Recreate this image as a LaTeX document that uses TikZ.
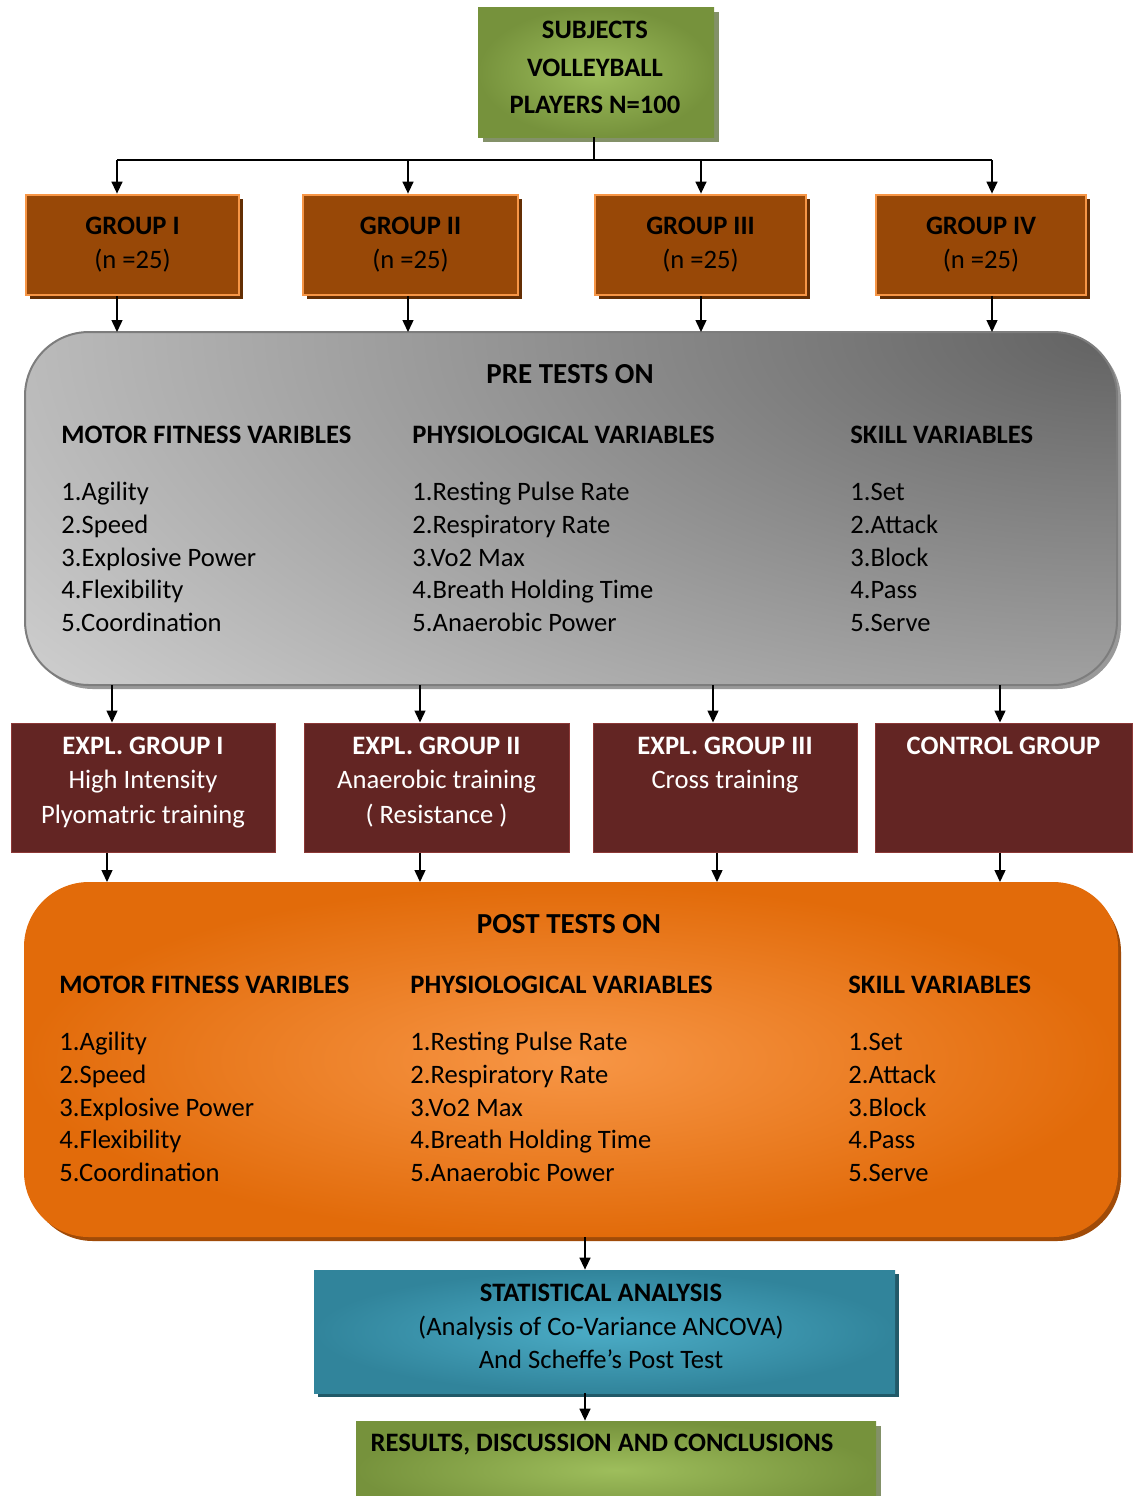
\documentclass[tikz,border=0pt]{standalone}
\usepackage{fontspec}
\setmainfont{Carlito}
\usepackage{tikz}
\usetikzlibrary{arrows.meta,shadows,positioning}

\definecolor{oliveDark}{RGB}{118,146,60}
\definecolor{oliveLight}{RGB}{158,190,92}
\definecolor{oliveShadow}{RGB}{79,98,40}
\definecolor{rustFill}{RGB}{152,72,7}
\definecolor{rustEdge}{RGB}{247,150,70}
\definecolor{rustShadow}{RGB}{99,46,4}
\definecolor{wineFill}{RGB}{99,37,35}
\definecolor{wineEdge}{RGB}{140,56,54}
\definecolor{greyDark}{RGB}{98,98,98}
\definecolor{greyLight}{RGB}{208,208,208}
\definecolor{greyEdge}{RGB}{125,125,125}
\definecolor{orangeDark}{RGB}{226,107,10}
\definecolor{orangeLight}{RGB}{247,150,70}
\definecolor{orangeShadow}{RGB}{160,75,8}
\definecolor{tealDark}{RGB}{49,132,155}
\definecolor{tealLight}{RGB}{75,172,198}
\definecolor{tealShadow}{RGB}{33,89,104}

\tikzset{
  txt/.style={font=\fontsize{13.3}{16}\selectfont, inner sep=0pt},
  txtb/.style={font=\fontsize{13.3}{16}\selectfont\bfseries, inner sep=0pt},
  ttl/.style={font=\fontsize{14.5}{17}\selectfont\bfseries, inner sep=0pt},
  wtxt/.style={font=\fontsize{13.3}{17.25}\selectfont, inner sep=0pt, text=white, align=center},
  arr/.style={line width=0.7pt, -{Triangle[length=6pt,width=5.5pt]}},
  conn/.style={line width=0.7pt},
  greenbox/.style={inner sep=0pt, inner color=oliveLight, outer color=oliveDark,
    drop shadow={shadow xshift=2.5pt, shadow yshift=-2.5pt, fill=oliveShadow, opacity=0.7}},
  groupbox/.style={inner sep=0pt, fill=rustFill, draw=rustEdge, line width=1.4pt, align=center,
    font=\fontsize{13.3}{17}\selectfont,
    drop shadow={shadow xshift=2pt, shadow yshift=-2pt, fill=rustShadow, opacity=1}},
  explbox/.style={inner sep=0pt, fill=wineFill, draw=wineEdge, line width=0.5pt},
  prebox/.style={inner sep=0pt, outer sep=0pt, fill=greyLight, rounded corners=32pt,
    drop shadow={shadow xshift=2pt, shadow yshift=-2pt, fill=gray, opacity=0.8}},
  preedge/.style={draw=greyEdge, line width=1pt, rounded corners=32pt},
  postbox/.style={inner sep=0pt, draw=orangeDark, line width=1pt, rounded corners=32pt,
    inner color=orangeLight, outer color=orangeDark,
    drop shadow={shadow xshift=2pt, shadow yshift=-2.5pt, fill=orangeShadow, opacity=1}},
  tealbox/.style={inner sep=0pt, inner color=tealLight, outer color=tealDark,
    drop shadow={shadow xshift=2pt, shadow yshift=-2pt, fill=tealShadow, opacity=1}},
}

\begin{document}
\begin{tikzpicture}[x=0.5pt,y=0.5pt,yscale=-1,xscale=1]
\useasboundingbox (0,0) rectangle (1132,1496);

% Subjects
\node[greenbox, minimum width=118pt, minimum height=65pt] (subj) at (596,72) {};
\node[align=center, inner sep=0pt, font=\fontsize{13.3}{18.75}\selectfont\bfseries] (subjT) at (595,67.5)
  {SUBJECTS\\VOLLEYBALL\\PLAYERS N=100};

% Groups
\node[groupbox, minimum width=106.5pt, minimum height=50pt] (g1) at (132.5,245) {\textbf{GROUP I}\\(n =25)};
\node[groupbox, minimum width=107.5pt, minimum height=50pt] (g2) at (410.5,245) {\textbf{GROUP II}\\(n =25)};
\node[groupbox, minimum width=105.5pt, minimum height=50pt] (g3) at (700.5,245) {\textbf{GROUP III}\\(n =25)};
\node[groupbox, minimum width=105pt, minimum height=50pt] (g4) at (981,245) {\textbf{GROUP IV}\\(n =25)};

% Pre tests
\node[prebox, minimum width=546pt, minimum height=176.5pt] (pre) at (571,508.5) {};
\begin{scope}
  \clip[rounded corners=32pt] (pre.south west) rectangle (pre.north east);
  \shade[inner color=greyDark, outer color=greyLight] (pre.north east) ellipse [x radius=1350, y radius=620];
\end{scope}
\draw[preedge] (pre.south west) rectangle (pre.north east);
\node[ttl] (preT) at (570,374) {PRE TESTS ON};
\node[txtb, anchor=west] (preH1) at (61,435) {MOTOR FITNESS VARIBLES};
\node[txtb, anchor=west] (preH2) at (412,435) {PHYSIOLOGICAL VARIABLES};
\node[txtb, anchor=west] (preH3) at (850,435) {SKILL VARIABLES};
\foreach \t [count=\i from 0] in {1.Agility,2.Speed,3.Explosive Power,4.Flexibility,5.Coordination}
  \node[txt, anchor=base west] (preA\i) at (61,500.5+32.75*\i) {\t};
\foreach \t [count=\i from 0] in {1.Resting Pulse Rate,2.Respiratory Rate,3.Vo2 Max,4.Breath Holding Time,5.Anaerobic Power}
  \node[txt, anchor=base west] (preB\i) at (412,500.5+32.75*\i) {\t};
\foreach \t [count=\i from 0] in {1.Set,2.Attack,3.Block,4.Pass,5.Serve}
  \node[txt, anchor=base west] (preC\i) at (850,500.5+32.75*\i) {\t};

% Experimental groups
\node[explbox, minimum width=132pt, minimum height=64.5pt] (ex1) at (143,787.5) {};
\node[explbox, minimum width=132.5pt, minimum height=64.5pt] (ex2) at (436.5,787.5) {};
\node[explbox, minimum width=132pt, minimum height=64.5pt] (ex3) at (725,787.5) {};
\node[explbox, minimum width=128.5pt, minimum height=64.5pt] (ex4) at (1003.5,787.5) {};
\node[wtxt, below=7pt of ex1.north] (ex1T) {\textbf{EXPL. GROUP I}\\High Intensity\\Plyomatric training};
\node[wtxt, below=7pt of ex2.north] (ex2T) {\textbf{EXPL. GROUP II}\\Anaerobic training\\( Resistance )};
\node[wtxt, below=7pt of ex3.north] (ex3T) {\textbf{EXPL. GROUP III}\\Cross training};
\node[wtxt, below=7pt of ex4.north] (ex4T) {\textbf{CONTROL GROUP}};

% Post tests
\node[postbox, minimum width=546pt, minimum height=176.5pt] (post) at (571,1059.5) {};
\node[ttl] (postT) at (569,924) {POST TESTS ON};
\node[txtb, anchor=west] (postH1) at (59,985) {MOTOR FITNESS VARIBLES};
\node[txtb, anchor=west] (postH2) at (410,985) {PHYSIOLOGICAL VARIABLES};
\node[txtb, anchor=west] (postH3) at (848,985) {SKILL VARIABLES};
\foreach \t [count=\i from 0] in {1.Agility,2.Speed,3.Explosive Power,4.Flexibility,5.Coordination}
  \node[txt, anchor=base west] (postA\i) at (59,1050.5+32.75*\i) {\t};
\foreach \t [count=\i from 0] in {1.Resting Pulse Rate,2.Respiratory Rate,3.Vo2 Max,4.Breath Holding Time,5.Anaerobic Power}
  \node[txt, anchor=base west] (postB\i) at (410,1050.5+32.75*\i) {\t};
\foreach \t [count=\i from 0] in {1.Set,2.Attack,3.Block,4.Pass,5.Serve}
  \node[txt, anchor=base west] (postC\i) at (848,1050.5+32.75*\i) {\t};

% Analysis and results
\node[tealbox, minimum width=290.5pt, minimum height=61.5pt] (stat) at (604.5,1331.5) {};
\node[align=center, inner sep=0pt, font=\fontsize{13.3}{16.75}\selectfont] (statT) at (601,1326.5)
  {\textbf{STATISTICAL ANALYSIS}\\(Analysis of Co-Variance ANCOVA)\\And Scheffe’s Post Test};
\node[greenbox, minimum width=260pt, minimum height=49pt] (res) at (616,1470) {};
\node[txtb] (resT) at (602,1445) {RESULTS, DISCUSSION AND CONCLUSIONS};

% Connectors
\coordinate (bus) at (594,160);
\draw[conn] (bus |- subj.south) -- (bus);
\draw[conn] (bus -| 117,0) -- (bus -| 992,0);
\foreach \g/\x in {g1/117,g2/408,g3/701,g4/992}{
  \draw[arr] (bus -| \x,0) -- (\g.north -| \x,0);
  \draw[arr] (\g.south -| \x,0) -- (pre.north -| \x,0);
}
\foreach \e/\x in {ex1/112,ex2/420,ex3/713,ex4/1000}
  \draw[arr] (pre.south -| \x,0) -- (\e.north -| \x,0);
\foreach \e/\x in {ex1/107,ex2/420,ex3/717,ex4/1000}
  \draw[arr] (\e.south -| \x,0) -- (post.north -| \x,0);
\draw[arr] (post.south -| 585,0) -- (stat.north -| 585,0);
\draw[arr] (stat.south -| 585,0) -- (res.north -| 585,0);

\end{tikzpicture}
\end{document}
